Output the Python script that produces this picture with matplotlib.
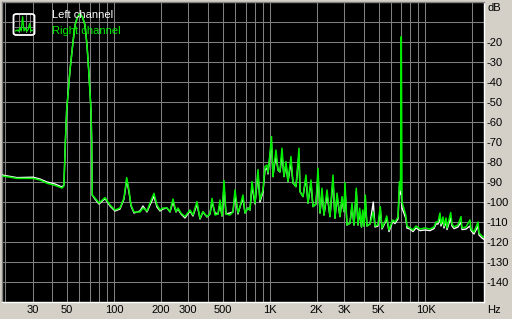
import matplotlib
matplotlib.use("Agg")
import matplotlib.pyplot as plt
from matplotlib.patches import FancyBboxPatch

plt.rcParams['font.family'] = ['Liberation Sans', 'DejaVu Sans']

# frequency bins (Hz) and levels (dB)
freq_hz = [19.1, 21.5, 23.8, 30.2, 33.5, 37.1, 41.8, 46.4, 47.7, 48.8,
           49.7, 52.2, 54.3, 56.2, 58.3, 60.5, 62.8, 65.1, 67.1, 68.8,
           71.2, 71.9, 72.5, 75.5, 80.1, 87.6, 94.3, 101.5, 109.3, 115.9,
           120.7, 124.8, 128.6, 134.4, 146.9, 153.5, 162.9, 170.3, 180.6, 188.8,
           197.4, 206.4, 218.9, 228.8, 239.2, 250.1, 257.6, 269.3, 285.7, 307.6,
           321.5, 341.1, 356.6, 372.7, 395.4, 413.4, 425.8, 445.1, 465.3, 479.3,
           493.6, 508.5, 523.7, 555.6, 580.8, 598.3, 625.4, 644.1, 673.3, 693.6,
           725.1, 746.8, 769.2, 804.1, 840.6, 865.8, 905, 932.2, 960.2, 974.5,
           1003.7, 1026.2, 1049.2, 1064.8, 1096.8, 1129.7, 1163.6, 1198.5, 1234.5, 1271.6,
           1309.7, 1369.1, 1410.2, 1474.2, 1541, 1564, 1635, 1709, 1760, 1840,
           1895, 1981, 2041, 2102, 2165, 2230, 2331, 2437, 2547, 2624,
           2703, 2825, 2910, 2997, 3042, 3133, 3275, 3374, 3475, 3595,
           3686, 3780, 3882, 3952, 4028, 4107, 4211, 4402, 4622, 4740,
           4955, 5127, 5257, 5494, 5635, 5830, 6158, 6371, 6660, 6810,
           6911, 6993, 7066, 7463, 7607, 7953, 8313, 8690, 9220, 9927,
           10688, 11339, 11680, 12030, 12390, 12576, 12953, 13146, 13540, 13742,
           14515, 14796, 15240, 16168, 16900, 17154, 18198, 19308, 19595, 20483,
           21732, 22054, 23055, 24100]
right_db = [-87.0, -87.6, -88.2, -88.2, -89.0, -90.6, -91.7, -93.0, -92.0, -69.0,
            -54.0, -34.0, -21.5, -11.5, -7.5, -6.0, -7.5, -11.5, -21.5, -34.0,
            -54.0, -69.0, -96.5, -98.0, -100.5, -97.8, -101.5, -104.0, -103.0, -98.0,
            -87.8, -94.0, -101.5, -105.0, -105.0, -103.0, -104.5, -100.5, -95.7, -101.5,
            -104.0, -103.0, -103.0, -104.8, -98.5, -104.8, -103.0, -105.6, -107.3, -104.0,
            -106.5, -99.8, -108.2, -104.8, -107.3, -106.0, -98.2, -106.5, -106.0, -99.0,
            -107.0, -89.3, -106.0, -106.5, -105.0, -94.0, -105.5, -102.3, -96.5, -105.5,
            -103.0, -104.0, -89.8, -100.6, -83.8, -99.0, -94.0, -82.3, -81.5, -85.5,
            -75.6, -67.3, -87.3, -82.3, -74.0, -84.0, -84.8, -73.1, -87.3, -79.8,
            -89.8, -77.3, -90.5, -92.3, -73.1, -94.8, -97.3, -86.5, -100.6, -89.0,
            -102.3, -101.0, -83.1, -105.5, -93.1, -106.5, -94.0, -107.3, -86.5, -108.1,
            -95.6, -107.3, -97.3, -104.8, -90.3, -111.5, -110.6, -100.6, -111.5, -93.1,
            -111.5, -103.1, -112.5, -104.0, -112.0, -96.5, -112.0, -111.0, -105.0, -112.0,
            -111.5, -102.3, -113.0, -109.8, -107.0, -114.0, -109.0, -110.0, -107.5, -89.8,
            -94.0, -17.3, -100.0, -106.5, -112.0, -113.0, -114.0, -112.0, -113.5, -113.0,
            -113.5, -112.5, -110.0, -110.0, -105.5, -111.0, -107.5, -112.0, -108.0, -113.0,
            -105.3, -111.0, -112.5, -111.5, -107.3, -113.0, -112.5, -109.0, -113.5, -115.0,
            -110.0, -115.5, -117.0, -118.0]
left_db = [-86.5, -87.2, -87.8, -87.6, -88.5, -90.0, -91.0, -92.5, -91.5, -69.0,
           -54.0, -34.0, -21.5, -11.5, -7.5, -6.0, -7.5, -11.5, -21.5, -34.0,
           -54.0, -69.0, -96.5, -98.5, -101.0, -98.3, -102.0, -104.5, -103.5, -98.5,
           -89.0, -95.0, -102.0, -105.5, -104.5, -102.0, -105.0, -101.5, -97.0, -102.5,
           -104.5, -103.5, -103.0, -105.0, -100.0, -105.0, -103.5, -106.0, -108.0, -104.5,
           -107.0, -101.0, -108.5, -105.0, -107.5, -106.0, -100.0, -105.5, -106.0, -101.0,
           -107.0, -92.0, -106.0, -105.5, -105.0, -96.0, -106.0, -102.5, -98.0, -105.5,
           -103.0, -104.0, -92.0, -101.0, -86.0, -100.0, -95.0, -84.0, -83.0, -86.0,
           -77.0, -70.0, -87.3, -83.0, -77.0, -84.0, -85.0, -76.0, -87.3, -81.0,
           -89.8, -80.0, -90.5, -92.3, -76.0, -94.8, -97.3, -88.0, -100.6, -90.5,
           -102.3, -101.0, -86.0, -105.5, -95.0, -106.5, -96.0, -107.3, -89.0, -108.1,
           -97.0, -107.3, -99.0, -104.8, -93.0, -111.5, -110.6, -102.0, -111.5, -95.0,
           -111.5, -105.0, -112.5, -105.5, -112.0, -99.0, -112.0, -111.0, -100.0, -112.5,
           -112.0, -104.0, -113.5, -110.5, -108.0, -114.8, -109.8, -110.8, -108.5, -92.0,
           -96.0, -96.0, -103.0, -108.0, -113.0, -113.5, -114.8, -113.0, -114.3, -114.0,
           -114.3, -113.3, -111.0, -111.0, -108.0, -112.0, -109.0, -113.0, -109.5, -113.8,
           -108.0, -112.0, -113.3, -112.5, -110.0, -113.8, -113.5, -112.0, -114.3, -116.0,
           -112.0, -116.5, -118.0, -119.0]

xtick_hz = [30, 50, 100, 200, 300, 500, 1000, 2000, 3000, 5000, 10000]
xtick_labels = ["30", "50", "100", "200", "300", "500", "1K", "2K", "3K", "5K", "10K"]
ytick_db = [-20, -30, -40, -50, -60, -70, -80, -90, -100, -110, -120, -130, -140]
grid_hz = [m * 10 ** e for e in range(1, 5) for m in range(1, 10) if 20 <= m * 10 ** e <= 20000]
icon_levels = [0.12, 0.18, 0.1, 0.3, 0.12, 0.95, 0.12, 0.28, 0.1, 0.2, 0.55, 0.12, 0.15]

W, H = 512, 319
BG = "#d4d0c8"; GRID = "#808080"; GREEN = "#00f000"

fig = plt.figure(figsize=(W / 100, H / 100), dpi=100, facecolor=BG)
ax = fig.add_axes([2 / W, 17 / H, 482 / W, 300 / H])
ax.set_facecolor("black")
ax.set_xscale("log")
ax.set_xlim(19.1, 23750)
ax.set_ylim(-150, 0)

for f in grid_hz:
    ax.axvline(f, color=GRID, lw=0.75, zorder=1)
for d in range(-140, 0, 10):
    ax.axhline(d, color=GRID, lw=0.75, zorder=1)

ax.plot(freq_hz, left_db, color="white", lw=1.0, zorder=3)
ax.plot(freq_hz, right_db, color=GREEN, lw=1.1, zorder=4)

ax.minorticks_off()
ax.set_xticks(xtick_hz, xtick_labels)
ax.yaxis.tick_right()
ax.set_yticks(ytick_db, [str(v) for v in ytick_db])
ax.tick_params(axis="x", length=0, pad=2.5, labelsize=8)
ax.tick_params(axis="y", length=0, pad=2, labelsize=8)
ax.minorticks_off()
for s in ["top", "left"]:
    ax.spines[s].set_color(GRID)
for s in ["bottom", "right"]:
    ax.spines[s].set_color("white")
for s in ax.spines.values():
    s.set_linewidth(1)

fig.text(487 / W, 1 - 8 / H, "dB", fontsize=8, va="center", ha="left")
fig.text(487 / W, 1 - 310 / H, "Hz", fontsize=8, va="center", ha="left")

# legend: icon + labels
ic = fig.add_axes([15 / W, 1 - 33 / H, 18 / W, 18 / H])
ic.set_facecolor("black")
ic.set_xlim(-0.5, len(icon_levels) - 0.5); ic.set_ylim(0, 1.05)
for gx in [2.5, 7.5, 10.5]:
    ic.axvline(gx, color=GRID, lw=0.7)
for gy in [0.35, 0.7]:
    ic.axhline(gy, color=GRID, lw=0.7)
ic.plot(range(len(icon_levels)), icon_levels, color=GREEN, lw=0.9)
ic.set_xticks([]); ic.set_yticks([])
for s in ic.spines.values():
    s.set_visible(False)
fig.patches.append(FancyBboxPatch((13.5 / W, 1 - 35 / H), 21 / W, 21 / H,
                                  boxstyle="round,pad=0,rounding_size=0.006",
                                  transform=fig.transFigure, fill=False,
                                  edgecolor="white", lw=1.3, zorder=10))
fig.text(52 / W, 1 - 15 / H, "Left channel", color="white", fontsize=8, va="center")
fig.text(52 / W, 1 - 31 / H, "Right channel", color=GREEN, fontsize=8, va="center")

fig.savefig("out.png", dpi=100, facecolor=BG)
